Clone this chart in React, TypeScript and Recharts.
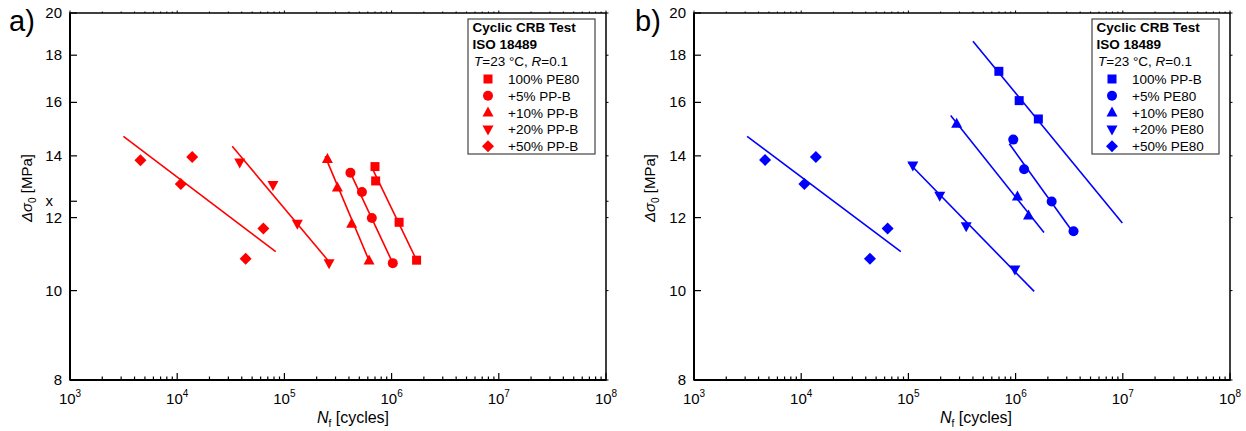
import React from 'react';
import { ScatterChart, Scatter, XAxis, YAxis, ReferenceArea } from 'recharts';

interface Pt {
    n: number;
    s: number;
}

// panel a) PE80 with PP-B added
const a100PE80: Pt[] = [{ n: 7.0e5, s: 13.63 }, { n: 7.1e5, s: 13.15 }, { n: 1.175e6, s: 11.86 }, { n: 1.71e6, s: 10.79 }];
const a5PPB: Pt[] = [{ n: 4.13e5, s: 13.42 }, { n: 5.29e5, s: 12.79 }, { n: 6.54e5, s: 11.99 }, { n: 1.026e6, s: 10.71 }];
const a10PPB: Pt[] = [{ n: 2.52e5, s: 13.89 }, { n: 3.12e5, s: 12.94 }, { n: 4.24e5, s: 11.82 }, { n: 6.16e5, s: 10.78 }];
const a20PPB: Pt[] = [{ n: 3.83e4, s: 13.77 }, { n: 7.82e4, s: 13.02 }, { n: 1.32e5, s: 11.82 }, { n: 2.61e5, s: 10.71 }];
const a50PPB: Pt[] = [{ n: 4.54e3, s: 13.85 }, { n: 1.08e4, s: 13.05 }, { n: 1.38e4, s: 13.96 }, { n: 6.37e4, s: 11.68 }, { n: 4.35e4, s: 10.83 }];

const a100Fit: Pt[] = [{ n: 6.54e5, s: 13.6 }, { n: 1.71e6, s: 10.79 }];
const a5Fit: Pt[] = [{ n: 4.13e5, s: 13.42 }, { n: 1.026e6, s: 10.71 }];
const a10Fit: Pt[] = [{ n: 2.4e5, s: 13.98 }, { n: 6.16e5, s: 10.78 }];
const a20Fit: Pt[] = [{ n: 3.26e4, s: 14.34 }, { n: 2.68e5, s: 10.71 }];
const a50Fit: Pt[] = [{ n: 3.15e3, s: 14.7 }, { n: 8.3e4, s: 11.02 }];

// panel b) PP-B with PE80 added
const b100PPB: Pt[] = [{ n: 6.98e5, s: 17.29 }, { n: 1.08e6, s: 16.07 }, { n: 1.63e6, s: 15.35 }];
const b5PE80: Pt[] = [{ n: 9.51e5, s: 14.58 }, { n: 1.2e6, s: 13.54 }, { n: 2.17e6, s: 12.49 }, { n: 3.47e6, s: 11.6 }];
const b10PE80: Pt[] = [{ n: 2.82e5, s: 15.17 }, { n: 1.04e6, s: 12.65 }, { n: 1.32e6, s: 12.06 }];
const b20PE80: Pt[] = [{ n: 1.1e5, s: 13.67 }, { n: 1.96e5, s: 12.67 }, { n: 3.46e5, s: 11.74 }, { n: 9.85e5, s: 10.54 }];
const b50PE80: Pt[] = [{ n: 4.6e3, s: 13.86 }, { n: 1.07e4, s: 13.05 }, { n: 1.37e4, s: 13.96 }, { n: 6.4e4, s: 11.68 }, { n: 4.38e4, s: 10.83 }];

const b100Fit: Pt[] = [{ n: 4.0e5, s: 18.64 }, { n: 9.9e6, s: 11.84 }];
const b5Fit: Pt[] = [{ n: 8.74e5, s: 14.43 }, { n: 3.3e6, s: 11.64 }];
const b10Fit: Pt[] = [{ n: 2.48e5, s: 15.48 }, { n: 1.84e6, s: 11.56 }];
const b20Fit: Pt[] = [{ n: 1.0e5, s: 13.77 }, { n: 1.49e6, s: 9.98 }];
const b50Fit: Pt[] = [{ n: 3.13e3, s: 14.7 }, { n: 8.5e4, s: 11.02 }];

const aLabels = ['100% PE80', '+5% PP-B', '+10% PP-B', '+20% PP-B', '+50% PP-B'];
const bLabels = ['100% PP-B', '+5% PE80', '+10% PE80', '+20% PE80', '+50% PE80'];

const decades = [1e3, 1e4, 1e5, 1e6, 1e7, 1e8];
const minorSteps = [2, 3, 4, 5, 6, 7, 8, 9];
const xTicks = decades.flatMap((d, i) => (i < decades.length - 1 ? [d, ...minorSteps.map((m) => m * d)] : [d]));
const aYTicks = [8, 10, 12, 12.5, 14, 16, 18, 20];
const bYTicks = [8, 10, 12, 14, 16, 18, 20];

const FONT = '"Liberation Sans", Arial, sans-serif';
const W = 623;
const H = 431;
const TOP = 13;
const BOTTOM = 380;

type Kind = 'square' | 'circle' | 'up' | 'down' | 'diamond';
const kinds: Kind[] = ['square', 'circle', 'up', 'down', 'diamond'];

const Marker = ({ cx, cy, kind, color }: { cx: number; cy: number; kind: Kind; color: string }) => {
    if (cx == null || cy == null) return <g />;
    switch (kind) {
        case 'square':
            return <rect x={cx - 4.5} y={cy - 4.5} width={9} height={9} fill={color} />;
        case 'circle':
            return <circle cx={cx} cy={cy} r={5} fill={color} />;
        case 'up':
            return <polygon points={`${cx},${cy - 6} ${cx + 5.5},${cy + 4} ${cx - 5.5},${cy + 4}`} fill={color} />;
        case 'down':
            return <polygon points={`${cx},${cy + 6} ${cx + 5.5},${cy - 4} ${cx - 5.5},${cy - 4}`} fill={color} />;
        default:
            return <polygon points={`${cx},${cy - 6} ${cx + 6},${cy} ${cx},${cy + 6} ${cx - 6},${cy}`} fill={color} />;
    }
};

interface PanelProps {
    tag: string;
    color: string;
    series: Pt[][];
    fits: Pt[][];
    labels: string[];
    yTicks: number[];
    plotLeft: number;
    plotRight: number;
}

const Panel: React.FC<PanelProps> = ({ tag, color, series, fits, labels, yTicks, plotLeft, plotRight }) => {
    const XTick = (props: any) => {
        const { x, payload } = props;
        const v = payload.value as number;
        const lg = Math.log10(v);
        const exp = Math.round(lg);
        const major = Math.abs(lg - exp) < 1e-6;
        const len = major ? 7 : 3.5;
        return (
            <g>
                <line x1={x} x2={x} y1={BOTTOM} y2={BOTTOM - len} stroke="#000" strokeWidth={1.2} />
                <line x1={x} x2={x} y1={TOP} y2={TOP - (major ? 2.5 : 1.5)} stroke="#000" strokeWidth={1} />
                {major && (
                    <text x={x} y={BOTTOM + 24} textAnchor="middle" fontSize={15} fontFamily={FONT} fill="#000">
                        10<tspan dy={-7} fontSize={10}>{exp}</tspan>
                    </text>
                )}
            </g>
        );
    };

    const YTick = (props: any) => {
        const { y, payload } = props;
        const v = payload.value as number;
        const odd = v === 12.5;
        return (
            <g>
                <line x1={plotLeft} x2={plotLeft + 7} y1={y} y2={y} stroke="#000" strokeWidth={1.2} />
                <line x1={plotRight} x2={plotRight + 2.5} y1={y} y2={y} stroke="#000" strokeWidth={1} />
                <text x={plotLeft - (odd ? 17 : 8)} y={y + 5} textAnchor="end" fontSize={15} fontFamily={FONT} fill="#000">
                    {odd ? 'x' : v}
                </text>
            </g>
        );
    };

    const boxX = plotRight - 138;
    const rows = ['Cyclic CRB Test', 'ISO 18489'];

    return (
        <ScatterChart width={W} height={H} margin={{ top: TOP, right: W - plotRight, bottom: H - BOTTOM - 40, left: plotLeft - 50 }}>
            <XAxis
                type="number"
                dataKey="n"
                scale="log"
                domain={[1e3, 1e8]}
                ticks={xTicks}
                interval={0}
                allowDataOverflow
                axisLine={false}
                tickLine={false}
                tick={XTick}
                height={40}
            />
            <YAxis
                type="number"
                dataKey="s"
                scale="log"
                domain={[8, 20]}
                ticks={yTicks}
                interval={0}
                allowDataOverflow
                axisLine={false}
                tickLine={false}
                tick={YTick}
                width={50}
            />
            <ReferenceArea x1={1e3} x2={1e8} y1={8} y2={20} fill="none" stroke="#000" strokeWidth={1.5} />
            {fits.map((f, i) => (
                <Scatter
                    key={`fit-${i}`}
                    data={f}
                    fill={color}
                    line={{ stroke: color, strokeWidth: 1.6 }}
                    shape={() => <g />}
                    legendType="none"
                    isAnimationActive={false}
                />
            ))}
            {series.map((s, i) => (
                <Scatter
                    key={`pts-${i}`}
                    data={s}
                    fill={color}
                    shape={(p: any) => <Marker cx={p.cx} cy={p.cy} kind={kinds[i]} color={color} />}
                    isAnimationActive={false}
                />
            ))}
            <line x1={plotLeft} x2={plotLeft} y1={TOP} y2={BOTTOM} stroke="#000" strokeWidth={2} />
            <line x1={plotLeft} x2={plotRight} y1={BOTTOM} y2={BOTTOM} stroke="#000" strokeWidth={2} />
            <text x={tag === 'a)' ? 9 : 12} y={31} fontSize={29} fontFamily={FONT} fill="#000">{tag}</text>
            <text transform="rotate(-90, 32, 188)" x={32} y={188} textAnchor="middle" fontSize={15} fontFamily={FONT} fill="#000">
                <tspan fontStyle="italic">Δσ</tspan>
                <tspan dy={4} fontSize={10}>0</tspan>
                <tspan dy={-4}> [MPa]</tspan>
            </text>
            <text x={353} y={423} textAnchor="middle" fontSize={16} fontFamily={FONT} fill="#000">
                <tspan fontStyle="italic">N</tspan>
                <tspan dy={4} fontSize={10}>f</tspan>
                <tspan dy={-4}> [cycles]</tspan>
            </text>
            <g fontFamily={FONT} fill="#000">
                <rect x={boxX} y={19} width={127} height={135} fill="#fff" stroke="#444" strokeWidth={1.2} />
                {rows.map((r, i) => (
                    <text key={r} x={boxX + 4.5} y={32 + i * 17} fontSize={13.5} fontWeight="bold">{r}</text>
                ))}
                <text x={boxX + 6} y={66} fontSize={13.5}>
                    <tspan fontStyle="italic">T</tspan>=23 °C, <tspan fontStyle="italic">R</tspan>=0.1
                </text>
                {labels.map((l, i) => (
                    <g key={l}>
                        <Marker cx={boxX + 20} cy={79 + i * 16.8} kind={kinds[i]} color={color} />
                        <text x={boxX + 40} y={84 + i * 16.8} fontSize={13.5}>{l}</text>
                    </g>
                ))}
            </g>
        </ScatterChart>
    );
};

const App: React.FC = () => {
    return (
        <div style={{ position: 'absolute', left: 0, top: 0, width: 1246, height: 431, background: '#fff', fontFamily: FONT }}>
            <div style={{ position: 'absolute', left: 0, top: 0 }}>
                <Panel
                    tag="a)"
                    color="#ff0000"
                    series={[a100PE80, a5PPB, a10PPB, a20PPB, a50PPB]}
                    fits={[a100Fit, a5Fit, a10Fit, a20Fit, a50Fit]}
                    labels={aLabels}
                    yTicks={aYTicks}
                    plotLeft={70}
                    plotRight={606}
                />
            </div>
            <div style={{ position: 'absolute', left: W, top: 0 }}>
                <Panel
                    tag="b)"
                    color="#0000ff"
                    series={[b100PPB, b5PE80, b10PE80, b20PE80, b50PE80]}
                    fits={[b100Fit, b5Fit, b10Fit, b20Fit, b50Fit]}
                    labels={bLabels}
                    yTicks={bYTicks}
                    plotLeft={71}
                    plotRight={607}
                />
            </div>
        </div>
    );
};

export default App;
